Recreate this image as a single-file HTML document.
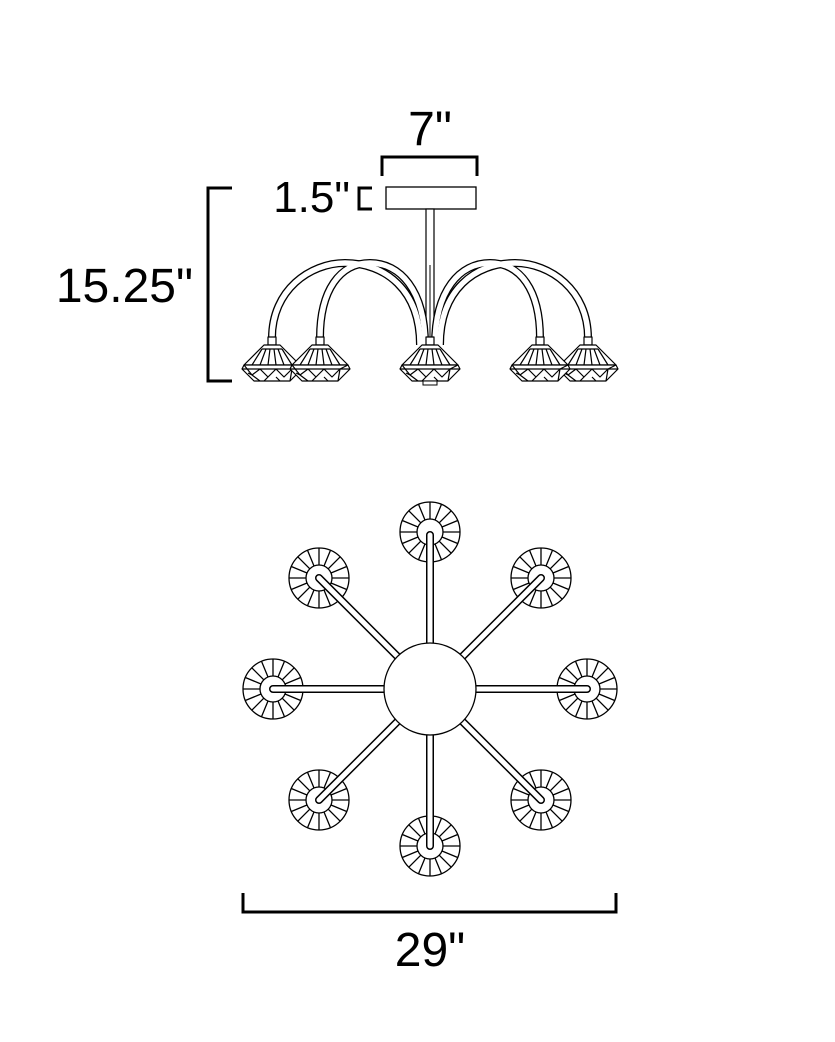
<!DOCTYPE html>
<html><head><style>
html,body{margin:0;padding:0;background:#fff;width:835px;height:1042px;overflow:hidden}
svg{display:block}
text{font-family:"Liberation Sans",sans-serif;fill:#000}
</style></head><body>
<svg width="835" height="1042" viewBox="0 0 835 1042">
<defs>
<g id="lamp" fill="none" stroke="#000" stroke-width="1.3">
<circle r="30" fill="#fff"/>
<circle r="13"/>
<path d="M13,0L30,0M12,5L27.7,11.5M9.2,9.2L21.2,21.2M5,12L11.5,27.7M0,13L0,30M-5,12L-11.5,27.7M-9.2,9.2L-21.2,21.2M-12,5L-27.7,11.5M-13,0L-30,0M-12,-5L-27.7,-11.5M-9.2,-9.2L-21.2,-21.2M-5,-12L-11.5,-27.7M0,-13L0,-30M5,-12L11.5,-27.7M9.2,-9.2L21.2,-21.2M12,-5L27.7,-11.5"/>
</g>
<g id="shade" fill="#fff" stroke="#000" stroke-width="1.2" stroke-linejoin="round">
<rect x="-4" y="0" width="8" height="8"/>
<polygon points="-8,8 8,8 28,28 -28,28"/>
<polygon points="-28,28 28,28 30,32 18,44 -18,44 -30,32"/>
<path fill="none" d="M-10,12H10M-6,12L-12,28M-2,12L-4,28M2,12L4,28M6,12L12,28M-10,12L-20,28M10,12L20,28M-30,32H30M-28,28L-20,38L-12,32L-4,40L4,32L12,40L20,32L28,28M-20,38L-12,44M-4,40L-8,44M4,40L8,44M20,32L18,44M-20,38L-24,36"/>
</g>
</defs>

<!-- dimension labels -->
<text x="430" y="145" font-size="48" text-anchor="middle">7"</text>
<text x="350" y="212" font-size="44" text-anchor="end">1.5"</text>
<text x="193" y="302" font-size="48" text-anchor="end">15.25"</text>
<text x="430" y="966" font-size="48" text-anchor="middle">29"</text>

<g fill="none" stroke="#000" stroke-width="3">
<path d="M382,176V157H477V176"/>
<path d="M372,188H359V209H372"/>
<path d="M232,188H208V381H232"/>
<path d="M243,893V912H616V893"/>
</g>

<!-- side view -->
<rect x="386" y="187" width="90" height="22" fill="#fff" stroke="#000" stroke-width="1.3"/>
<rect x="426" y="209" width="8" height="132" fill="#fff" stroke="#000" stroke-width="1.2"/>
<line x1="430" y1="265" x2="430" y2="340" stroke="#000" stroke-width="1"/>
<g fill="none" stroke-linecap="butt">
<g stroke="#000" stroke-width="8">
<path d="M272,338C272,290 310,263 345,263C385,263 420,290 420,345"/>
<path d="M320,338C320,290 340,263 370,263C400,263 425,290 425,345"/>
<path d="M588,338C588,290 550,263 515,263C475,263 440,290 440,345"/>
<path d="M540,338C540,290 520,263 490,263C460,263 435,290 435,345"/>
</g>
<g stroke="#fff" stroke-width="5.4">
<path d="M272,338C272,290 310,263 345,263C385,263 420,290 420,345"/>
<path d="M320,338C320,290 340,263 370,263C400,263 425,290 425,345"/>
<path d="M588,338C588,290 550,263 515,263C475,263 440,290 440,345"/>
<path d="M540,338C540,290 520,263 490,263C460,263 435,290 435,345"/>
</g>
</g>
<use href="#shade" x="272" y="337"/>
<use href="#shade" x="320" y="337"/>
<use href="#shade" x="588" y="337"/>
<use href="#shade" x="540" y="337"/>
<use href="#shade" x="430" y="337"/>
<rect x="423" y="381" width="14" height="4" fill="#fff" stroke="#000" stroke-width="1"/>

<!-- top view -->
<use href="#lamp" x="430" y="532"/>
<use href="#lamp" x="587" y="689"/>
<use href="#lamp" x="273" y="689"/>
<use href="#lamp" x="430" y="846"/>
<use href="#lamp" x="319" y="578"/>
<use href="#lamp" x="541" y="578"/>
<use href="#lamp" x="319" y="800"/>
<use href="#lamp" x="541" y="800"/>
<g fill="none" stroke-linecap="round">
<g stroke="#000" stroke-width="8">
<path d="M430,535V689M587,689H430M273,689H430M430,846V689M319,578L430,689M541,578L430,689M319,800L430,689M541,800L430,689"/>
</g>
<g stroke="#fff" stroke-width="5">
<path d="M430,535V689M587,689H430M273,689H430M430,846V689M319,578L430,689M541,578L430,689M319,800L430,689M541,800L430,689"/>
</g>
</g>
<circle cx="430" cy="689" r="46" fill="#fff" stroke="#000" stroke-width="1.3"/>
</svg>
</body></html>
